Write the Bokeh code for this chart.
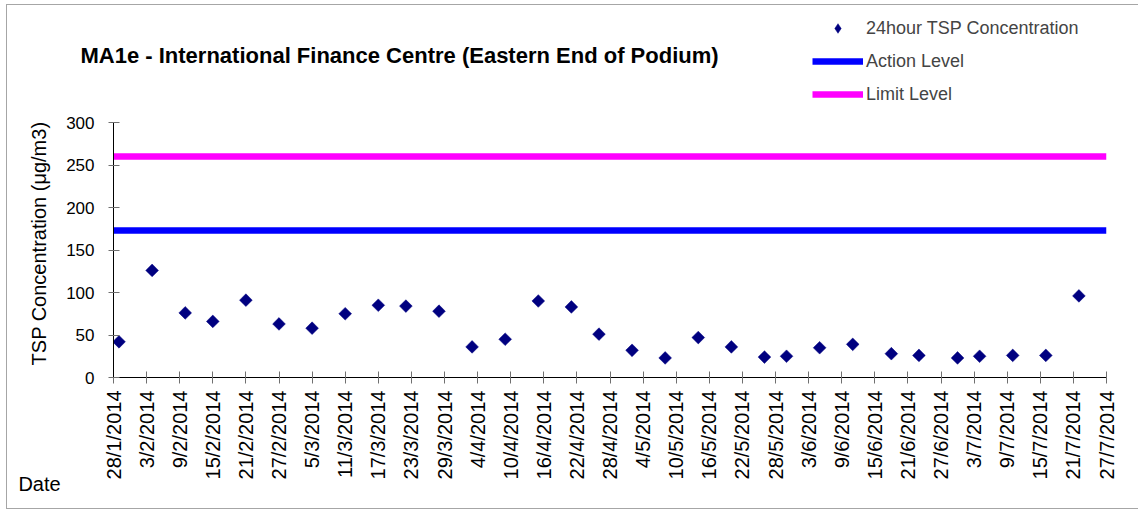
import math
import pandas as pd
from bokeh.plotting import figure
from bokeh.layouts import column, row
from bokeh.models import (Range1d, FixedTicker, Legend, LegendItem, Label,
                          ColumnDataSource)
from bokeh.embed import file_html
from bokeh.resources import INLINE

# ---------------- data ----------------
dates = ["29/1/2014", "4/2/2014", "10/2/2014", "15/2/2014", "21/2/2014", "27/2/2014",
         "5/3/2014", "11/3/2014", "17/3/2014", "22/3/2014", "28/3/2014", "3/4/2014",
         "9/4/2014", "15/4/2014", "21/4/2014", "26/4/2014", "2/5/2014", "8/5/2014",
         "14/5/2014", "20/5/2014", "26/5/2014", "30/5/2014", "5/6/2014", "11/6/2014",
         "18/6/2014", "23/6/2014", "30/6/2014", "4/7/2014", "10/7/2014", "16/7/2014",
         "22/7/2014"]
tsp = [42, 126, 76, 66, 91, 63, 58, 75, 85, 84, 78, 36, 45, 90, 83, 51,
       32, 23, 47, 36, 24, 25, 35, 39, 28, 26, 23, 25, 26, 26, 96]
action_level = 173
limit_level = 260
tick_labels = ["28/1/2014", "3/2/2014", "9/2/2014", "15/2/2014", "21/2/2014", "27/2/2014",
               "5/3/2014", "11/3/2014", "17/3/2014", "23/3/2014", "29/3/2014", "4/4/2014",
               "10/4/2014", "16/4/2014", "22/4/2014", "28/4/2014", "4/5/2014", "10/5/2014",
               "16/5/2014", "22/5/2014", "28/5/2014", "3/6/2014", "9/6/2014", "15/6/2014",
               "21/6/2014", "27/6/2014", "3/7/2014", "9/7/2014", "15/7/2014", "21/7/2014",
               "27/7/2014"]
y_ticks = [0, 50, 100, 150, 200, 250, 300]
title_text = "MA1e - International Finance Centre (Eastern End of Podium)"
y_title = "TSP Concentration (μg/m3)"
x_title = "Date"
series_names = ["24hour TSP Concentration", "Action Level", "Limit Level"]

FONT = "Liberation Sans"
NAVY, BLUE, MAGENTA = "#000080", "#0000FF", "#FF00FF"

# ---------------- layout sizes (page drawn from its top-left corner) ----------------
W, H = 1138, 510
HEAD_H = 110
STRIP_W = 61
MAIN_W, MAIN_H = W - STRIP_W, H - HEAD_H
BORDER_L, BORDER_R, BORDER_T, BORDER_B = 52, 32, 12, 133

x_dates = pd.to_datetime(dates, format="%d/%m/%Y")
tick_dates = pd.to_datetime(tick_labels, format="%d/%m/%Y")
tick_ms = [int(t.timestamp() * 1000) for t in tick_dates]
x_start, x_end = tick_dates[0], tick_dates[-1]


def blank_fig(w, h, xaxis=None):
    f = figure(width=w, height=h, output_backend="svg", toolbar_location=None,
               x_axis_location=xaxis, y_axis_location=None,
               x_range=Range1d(0, w), y_range=Range1d(0, h),
               min_border=0, min_border_left=0, min_border_right=0,
               min_border_top=0, min_border_bottom=0)
    f.outline_line_color = None
    f.grid.visible = False
    f.background_fill_color = "white"
    f.border_fill_color = "white"
    return f


# ---------------- main plot ----------------
p = figure(width=MAIN_W, height=MAIN_H, output_backend="svg", toolbar_location=None,
           title=None, x_axis_type="datetime",
           x_range=Range1d(x_start, x_end), y_range=Range1d(0, 300),
           min_border_left=BORDER_L, min_border_right=BORDER_R,
           min_border_top=BORDER_T, min_border_bottom=BORDER_B)
p.outline_line_color = None
p.grid.visible = False
p.background_fill_color = "white"
p.border_fill_color = "white"

src = ColumnDataSource(dict(x=x_dates, y=tsp))
p.scatter("x", "y", source=src, marker="square", angle=math.pi / 4, size=9,
          fill_color=NAVY, line_color=NAVY, line_width=0.5)
p.line([x_start, x_end], [action_level, action_level], line_color=BLUE,
       line_width=6.5, line_cap="butt")
p.line([x_start, x_end], [limit_level, limit_level], line_color=MAGENTA,
       line_width=6.5, line_cap="butt")

xa = p.xaxis[0]
xa.ticker = FixedTicker(ticks=tick_ms)
xa.major_label_overrides = {ms: lab for ms, lab in zip(tick_ms, tick_labels)}
xa.major_label_orientation = math.pi / 2
xa.major_label_text_font = FONT
xa.major_label_text_font_size = "20px"
xa.major_label_text_color = "black"
xa.major_tick_in = 6
xa.major_tick_out = 6
xa.minor_tick_line_color = None
xa.major_tick_line_color = "#707070"
xa.axis_line_color = "black"
xa.major_label_standoff = 7

ya = p.yaxis[0]
ya.ticker = FixedTicker(ticks=y_ticks)
ya.major_label_text_font = FONT
ya.major_label_text_font_size = "17px"
ya.major_label_text_color = "black"
ya.major_tick_in = 6
ya.major_tick_out = 5
ya.minor_tick_line_color = None
ya.major_tick_line_color = "#707070"
ya.axis_line_color = "black"
ya.major_label_standoff = 14

# ---------------- header: title + legend ----------------
head = blank_fig(W, HEAD_H)
head.add_layout(Label(x=80, y=HEAD_H - 55, x_units="screen", y_units="screen",
                      text=title_text, text_font=FONT, text_font_size="22px",
                      text_font_style="bold", text_baseline="middle",
                      text_color="black"))
# legend renderers share the real data; it lies outside the header's view
lg_pts = head.scatter("x", "y", source=src, marker="diamond", size=9,
                      fill_color=NAVY, line_color=NAVY, line_width=0.5)
lg_act = head.line([x_start, x_end], [action_level, action_level], line_color=BLUE,
                   line_width=6.5, line_cap="butt")
lg_lim = head.line([x_start, x_end], [limit_level, limit_level], line_color=MAGENTA,
                   line_width=6.5, line_cap="butt")
legend = Legend(items=[LegendItem(label=series_names[0], renderers=[lg_pts]),
                       LegendItem(label=series_names[1], renderers=[lg_act]),
                       LegendItem(label=series_names[2], renderers=[lg_lim])],
                location=(812, 4), orientation="vertical",
                glyph_width=51, glyph_height=24, label_height=24, label_standoff=3,
                spacing=9, padding=0, margin=0,
                label_text_font=FONT, label_text_font_size="18px",
                border_line_color=None, background_fill_alpha=0)
head.add_layout(legend)

# ---------------- left strip: y title + "Date" ----------------
strip = blank_fig(STRIP_W, MAIN_H, xaxis="below")
frame_h = MAIN_H - BORDER_T - BORDER_B
strip.add_layout(Label(x=38, y=frame_h - (243 - HEAD_H - BORDER_T), x_units="screen",
                       y_units="screen", text=y_title, angle=math.pi / 2,
                       text_font=FONT, text_font_size="20px", text_align="center",
                       text_baseline="middle", text_color="black"))
sa = strip.xaxis[0]
sa.ticker = FixedTicker(ticks=[39])
sa.major_label_overrides = {39: x_title}
sa.major_label_orientation = "horizontal"
sa.major_label_text_font = FONT
sa.major_label_text_font_size = "20px"
sa.major_label_text_color = "black"
sa.major_tick_in = 0
sa.major_tick_out = 0
sa.major_tick_line_color = None
sa.minor_tick_line_color = None
sa.axis_line_color = None
sa.major_label_standoff = 95

layout = column(head, row(strip, p, spacing=0), spacing=0)
# thin grey chart-area border (left, top, bottom edges as in the original)
layout.stylesheets = [":host::after { content: ''; position: absolute; left: 6px; "
                      "top: 4px; width: 1132px; height: 505px; box-sizing: border-box; "
                      "border: 1px solid #a6a6a6; border-right: none; "
                      "pointer-events: none; }"]
open("out.html", "w").write(file_html(layout, INLINE))
